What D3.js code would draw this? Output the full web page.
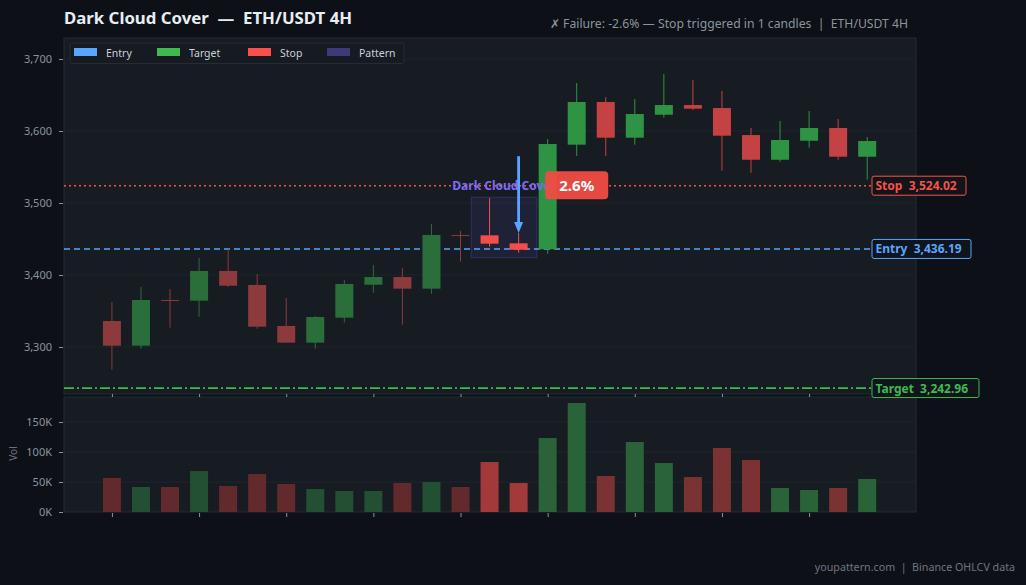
<!DOCTYPE html>
<html>
<head>
<meta charset="utf-8">
<script src="https://cdn.jsdelivr.net/npm/d3@7"></script>
<style>
  html, body { margin: 0; padding: 0; background: #0d1017; }
  svg { display: block; font-family: "Noto Sans", "Open Sans", sans-serif; }
  text { white-space: pre; }
</style>
</head>
<body>
<svg id="chart" width="1026" height="585"></svg>
<script>
// ---- data ----
const opens  = [3336.1, 3301.8, 3365.2, 3364.3, 3405.6, 3386.1, 3329.2, 3306.0, 3340.7, 3386.5, 3397.2, 3381.0, 3455.5, 3455.1, 3444.0, 3435.7, 3581.0, 3640.3, 3590.7, 3622.6, 3636.1, 3631.9, 3594.4, 3560.1, 3586.5, 3604.2, 3564.3];
const highs  = [3362.5, 3383.3, 3380.6, 3423.6, 3436.1, 3401.4, 3368.1, 3343.1, 3393.0, 3413.9, 3409.7, 3470.8, 3461.1, 3506.9, 3458.3, 3588.9, 3666.7, 3647.2, 3644.4, 3679.2, 3670.8, 3655.6, 3604.2, 3613.9, 3627.8, 3616.7, 3591.7];
const lows   = [3268.5, 3297.6, 3326.8, 3342.1, 3383.3, 3325.4, 3305.5, 3297.6, 3333.8, 3375.4, 3331.0, 3374.0, 3418.5, 3439.3, 3431.0, 3429.6, 3565.3, 3565.3, 3581.0, 3618.5, 3629.2, 3544.9, 3542.1, 3557.4, 3576.8, 3560.1, 3532.4];
const closes = [3301.8, 3365.3, 3364.8, 3405.6, 3385.1, 3328.2, 3306.0, 3341.7, 3387.5, 3397.2, 3381.0, 3455.6, 3455.0, 3443.5, 3435.1, 3581.9, 3640.3, 3590.7, 3623.6, 3636.1, 3631.0, 3593.5, 3560.1, 3587.5, 3604.2, 3564.3, 3586.1];
const volumes = [56700, 41700, 41700, 68300, 43300, 63300, 46700, 38300, 35000, 35000, 48300, 50000, 41700, 83300, 48300, 123300, 181700, 60000, 116700, 81700, 58300, 106700, 86700, 40000, 36700, 40000, 55000];
const patternStart = 13, patternEnd = 14;
const entryPrice = 3436.19, stopPrice = 3524.02, targetPrice = 3242.96;
const patternTop = 3508, patternBottom = 3424;
const arrowFrom = 3565;
const priceTicks = [3300, 3400, 3500, 3600, 3700];
const volTicks = [0, 50000, 100000, 150000];
const xTickIdx = [0, 3, 6, 9, 12, 15, 18, 21, 24];
const legendItems = ["Entry", "Target", "Stop", "Pattern"];
const titleText = "Dark Cloud Cover  \u2014  ETH/USDT 4H";
const subtitleText = "\u2717 Failure: -2.6% \u2014 Stop triggered in 1 candles  |  ETH/USDT 4H";
const badgeText = "2.6%";
const footerText = "youpattern.com  |  Binance OHLCV data";

// ---- layout ----
const svg = d3.select("#chart");
const W = 1026, H = 585;
const L = 64, R = 916;
const mT = 38, mB = 394, vT = 397, vB = 512;

const C = {
  bg: "#0d1017", panel: "#171b22", border: "#262b34", grid: "#20252d",
  text: "#8b949e", dim: "#6e7681",
  blue: "#58a6ff", green: "#3fb950", red: "#f85149", purple: "#7c6cf2", patternSw: "#3d3a7a"
};
const phase = i => i < patternStart ? "pre" : (i <= patternEnd ? "pat" : "post");
const candleColor = (i, up) => {
  const p = phase(i);
  if (p === "pre") return up ? "#2a6e3a" : "#8c3a3b";
  if (p === "pat") return up ? "#3fb950" : "#f44e4a";
  return up ? "#2e9444" : "#c44243";
};
const volColor = (i, up) => {
  const p = phase(i);
  if (p === "pre") return up ? "#234f33" : "#622a2d";
  if (p === "pat") return up ? "#2f7a40" : "#a33a3a";
  return up ? "#2a6338" : "#7a3232";
};

svg.append("rect").attr("width", W).attr("height", H).attr("fill", C.bg);

const x = d3.scaleLinear().domain([-1.65, 27.68]).range([L, R]);
const y = d3.scaleLinear().domain([3234.7, 3729.2]).range([mB, mT]);
const yv = d3.scaleLinear().domain([0, 191700]).range([vB, vT]);
const step = x(1) - x(0);
const bw = step * 0.62;

// panels
svg.append("rect").attr("x", L).attr("y", mT).attr("width", R - L).attr("height", mB - mT)
  .attr("fill", C.panel).attr("stroke", C.border);
svg.append("rect").attr("x", L).attr("y", vT).attr("width", R - L).attr("height", vB - vT)
  .attr("fill", C.panel).attr("stroke", C.border);

// grids
svg.append("g").selectAll("line").data(priceTicks).join("line")
  .attr("x1", L).attr("x2", R).attr("y1", d => y(d)).attr("y2", d => y(d))
  .attr("stroke", C.grid).attr("stroke-width", 1);
svg.append("g").selectAll("line").data(volTicks.slice(1)).join("line")
  .attr("x1", L).attr("x2", R).attr("y1", d => yv(d)).attr("y2", d => yv(d))
  .attr("stroke", C.grid).attr("stroke-width", 1);

// axes
function styleAxis(g) {
  g.select(".domain").remove();
  g.selectAll(".tick line").attr("stroke", C.text);
  g.selectAll(".tick text").attr("fill", C.text).style("font-size", "11px")
    .style("font-family", "'Noto Sans', sans-serif");
}
svg.append("g").attr("transform", `translate(${L - 1},0)`)
  .call(d3.axisLeft(y).tickValues(priceTicks).tickFormat(d3.format(",")).tickSize(4).tickPadding(7))
  .call(styleAxis);
svg.append("g").attr("transform", `translate(${L - 1},0)`)
  .call(d3.axisLeft(yv).tickValues(volTicks).tickFormat(d => (d / 1000) + "K").tickSize(4).tickPadding(7))
  .call(styleAxis);
svg.append("g").attr("transform", `translate(0,${mB})`)
  .call(d3.axisBottom(x).tickValues(xTickIdx).tickFormat("").tickSize(3))
  .call(styleAxis);
svg.append("g").attr("transform", `translate(0,${vB + 1})`)
  .call(d3.axisBottom(x).tickValues(xTickIdx).tickFormat("").tickSize(4))
  .call(styleAxis);

svg.append("text").attr("transform", `translate(17,${(vT + vB) / 2 - 1}) rotate(-90)`)
  .attr("text-anchor", "middle").attr("fill", C.dim).style("font-size", "10px").text("Vol");

// pattern box
svg.append("rect")
  .attr("x", x(patternStart) - step * 0.63).attr("width", x(patternEnd) - x(patternStart) + step * 1.26)
  .attr("y", y(patternTop)).attr("height", y(patternBottom) - y(patternTop))
  .attr("fill", "rgba(110,95,240,0.10)").attr("stroke", "rgba(110,95,240,0.28)").attr("stroke-width", 1);

// level lines
const levels = [
  { v: stopPrice, c: C.red, dash: "2,3", w: 1.5, label: "Stop", bw: 94 },
  { v: entryPrice, c: C.blue, dash: "6,4", w: 1.6, label: "Entry", bw: 99 },
  { v: targetPrice, c: C.green, dash: "10,3,2,3", w: 1.8, label: "Target", bw: 107 }
];
svg.append("g").selectAll("line").data(levels).join("line")
  .attr("x1", L).attr("x2", R).attr("y1", d => y(d.v)).attr("y2", d => y(d.v))
  .attr("stroke", d => d.c).attr("stroke-width", d => d.w).attr("stroke-dasharray", d => d.dash);

// candles
const idx = d3.range(opens.length);
const cg = svg.append("g");
cg.selectAll("line").data(idx).join("line")
  .attr("x1", i => x(i)).attr("x2", i => x(i))
  .attr("y1", i => y(highs[i])).attr("y2", i => y(lows[i]))
  .attr("stroke", i => candleColor(i, closes[i] >= opens[i])).attr("stroke-width", 1);
cg.selectAll("rect").data(idx).join("rect")
  .attr("x", i => x(i) - bw / 2).attr("width", bw)
  .attr("y", i => y(Math.max(opens[i], closes[i])))
  .attr("height", i => Math.max(1, Math.abs(y(opens[i]) - y(closes[i]))))
  .attr("fill", i => candleColor(i, closes[i] >= opens[i]));

// volume bars
svg.append("g").selectAll("rect").data(idx).join("rect")
  .attr("x", i => x(i) - bw / 2).attr("width", bw)
  .attr("y", i => yv(volumes[i])).attr("height", i => yv(0) - yv(volumes[i]))
  .attr("fill", i => volColor(i, closes[i] >= opens[i]));

// pattern label
const pcx = (x(patternStart) + x(patternEnd)) / 2;
svg.append("text").attr("x", pcx).attr("y", y(stopPrice) + 4.3)
  .attr("text-anchor", "middle").attr("fill", C.purple)
  .style("font-size", "12px").style("font-weight", "bold").text("Dark Cloud Cover");

// arrow
const ax = x(patternEnd);
svg.append("line").attr("x1", ax).attr("x2", ax)
  .attr("y1", y(arrowFrom)).attr("y2", y(highs[patternEnd]) - 8)
  .attr("stroke", C.blue).attr("stroke-width", 2.8);
const tipY = y(highs[patternEnd]);
svg.append("path")
  .attr("d", `M${ax - 4.5},${tipY - 11} L${ax + 4.5},${tipY - 11} L${ax},${tipY} Z`)
  .attr("fill", C.blue);

// badge
const bx = x(patternEnd + 2), by = y(stopPrice);
svg.append("rect").attr("x", bx - 31.5).attr("y", by - 14.5).attr("width", 63).attr("height", 28)
  .attr("rx", 4).attr("fill", "#f04c45").attr("fill-opacity", 0.95);
svg.append("text").attr("x", bx).attr("y", by + 5).attr("text-anchor", "middle")
  .attr("fill", "#ffffff").style("font-size", "15px").style("font-weight", "bold").text(badgeText);

// level labels
const lg = svg.append("g").selectAll("g").data(levels).join("g")
  .attr("transform", d => `translate(872,${y(d.v)})`);
lg.append("rect").attr("x", 0).attr("y", -9.5).attr("height", 19).attr("width", d => d.bw)
  .attr("rx", 2).attr("fill", "#10141b").attr("stroke", d => d.c).attr("stroke-width", 1);
lg.append("text").attr("x", 3.5).attr("y", 4.5).attr("fill", d => d.c)
  .style("font-size", "12px").style("font-weight", "bold")
  .text(d => d.label + "  " + d3.format(",.2f")(d.v));

// legend
const legColors = [C.blue, C.green, C.red, C.patternSw];
const legX = [74, 157, 248, 327];
const leg = svg.append("g");
leg.append("rect").attr("x", 70).attr("y", 43).attr("width", 334).attr("height", 20.5)
  .attr("rx", 2).attr("fill", "#161a21").attr("stroke", "#262b34");
legendItems.forEach((t, i) => {
  leg.append("rect").attr("x", legX[i]).attr("y", 48).attr("width", 23).attr("height", 8).attr("fill", legColors[i]);
  leg.append("text").attr("x", legX[i] + 32).attr("y", 56.5).attr("fill", "#c9d1d9")
    .style("font-size", "10.5px").text(t);
});

// titles
svg.append("text").attr("x", 64).attr("y", 23.5).attr("fill", "#e6edf3")
  .style("font-size", "16.8px").style("font-weight", "bold").text(titleText);
svg.append("text").attr("x", 908).attr("y", 27.5).attr("text-anchor", "end").attr("fill", C.text)
  .style("font-size", "12.2px").text(subtitleText);
svg.append("text").attr("x", 1015).attr("y", 570.5).attr("text-anchor", "end").attr("fill", C.dim)
  .style("font-size", "10.7px").text(footerText);
</script>
</body>
</html>
